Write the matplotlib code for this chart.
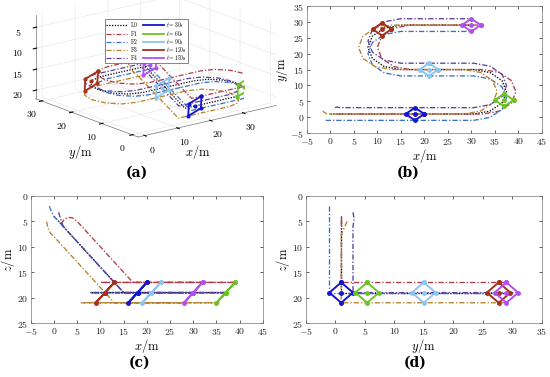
import matplotlib
matplotlib.use("Agg")
import matplotlib.pyplot as plt
from matplotlib.lines import Line2D
from matplotlib.ticker import FuncFormatter

plt.rcParams["mathtext.fontset"] = "cm"
plt.rcParams["font.family"] = "DejaVu Serif"
plt.rcParams["grid.color"] = "#e4e4e4"
plt.rcParams["grid.linewidth"] = 0.4

# leader level flight (z = 19 m) in the x-y plane
lead_x = [15, 30.5, 34.0, 36.56, 37.5, 36.56, 34.0, 30.5, 15, 11.5, 8.94, 8, 8.94, 11.5, 15, 30]
lead_y = [1, 1, 1.94, 4.5, 8, 11.5, 14.06, 15, 15, 15.94, 18.5, 22, 25.5, 28.06, 29, 29]
lead_z = 19

# take-off / climb segments of every UAV (c) and (d)
climb_x = {"L0": [0, 15],
           "F1": [1.5, 2.2, 3.0, 4.0, 5.0, 17],
           "F2": [-1, -0.6, 0, 15],
           "F3": [-1.6, -1.3, -0.8, 0, 13],
           "F4": [1.0, 1.4, 2.0, 15]}
climb_y = {"L0": [1, 1],
           "F1": [1, 1, 1, 1, 1, 1],
           "F2": [-1, -1, -1, -1],
           "F3": [2.0, 1.5, 1.1, 1, 1],
           "F4": [3, 3.2, 3, 3]}
climb_z = {"L0": [4, 19],
           "F1": [5.5, 4.6, 4.2, 4.3, 5.0, 17],
           "F2": [2, 3, 4, 19],
           "F3": [5, 6.3, 7.3, 8, 21],
           "F4": [3.2, 4.5, 6, 19]}

# formation offsets relative to the leader (x, y, z)
offsets = {"L0": (0, 0, 0), "F1": (2, 0, -2), "F2": (0, -2, 0),
           "F3": (-2, 0, 2), "F4": (0, 2, 0)}

# formation snapshots
snap_t = [30, 60, 90, 120, 150]
snap_x = [18, 37, 21, 11, 30]
snap_y = [1, 5.4, 15, 27.7, 29]
snap_z = [19, 19, 19, 19, 19]

uav_names = ["L0", "F1", "F2", "F3", "F4"]
uav_colors = {"L0": "black", "F1": "#b23a48", "F2": "#3a6fc8",
              "F3": "#b5822e", "F4": "#5b3f9e"}
uav_styles = {"L0": (0, (1, 1.2)), "F1": (0, (4, 1.5, 1, 1.5)),
              "F2": (0, (4, 1.5, 1, 1.5)), "F3": (0, (4, 1.5, 1, 1.5)),
              "F4": (0, (4, 1.5, 1, 1.5))}
snap_colors = ["#1515d0", "#6cc424", "#8ec6f2", "#a3321c", "#b24ff0"]


def path_of(name):
    dx, dy, dz = offsets[name]
    xs = climb_x[name] + [v + dx for v in lead_x[1:]]
    ys = climb_y[name] + [v + dy for v in lead_y[1:]]
    zs = climb_z[name] + [lead_z + dz] * (len(lead_x) - 1)
    return xs, ys, zs


def formation(i):
    order = ["F1", "F2", "F3", "F4", "F1"]
    px = [snap_x[i] + offsets[n][0] for n in order]
    py = [snap_y[i] + offsets[n][1] for n in order]
    pz = [snap_z[i] + offsets[n][2] for n in order]
    return px, py, pz


math_fmt = FuncFormatter(lambda v, p: f"${v:g}$")

fig = plt.figure(figsize=(5.5, 3.77), dpi=100)


def draw_2d(ax, a, b):
    for n in uav_names:
        p = path_of(n)
        ax.plot(p[a], p[b], color=uav_colors[n], linestyle=uav_styles[n], lw=0.95)
    for i in range(len(snap_t)):
        f = formation(i)
        c = (snap_x[i], snap_y[i], snap_z[i])
        ax.plot(f[a], f[b], color=snap_colors[i], lw=1.4, marker="o", ms=2.5)
        ax.plot([c[a]], [c[b]], color=snap_colors[i], marker="o", ms=2.5)
    ax.tick_params(direction="in", top=True, right=True, length=2.5,
                   width=0.5, labelsize=7, pad=2, colors="#222222")
    ax.xaxis.set_major_formatter(math_fmt)
    ax.yaxis.set_major_formatter(math_fmt)
    for s in ax.spines.values():
        s.set_linewidth(0.5)
        s.set_color("#777777")


# (b) x-y
axb = fig.add_axes([0.558, 0.647, 0.427, 0.337])
draw_2d(axb, 0, 1)
axb.set_xlim(-5, 45)
axb.set_ylim(-5, 35)
axb.set_xticks(range(-5, 46, 5))
axb.set_yticks(range(-5, 36, 5))
axb.set_xlabel(r"$x/\mathrm{m}$", fontsize=9, labelpad=0)
axb.set_ylabel(r"$y/\mathrm{m}$", fontsize=9, labelpad=0)

# (c) x-z
axc = fig.add_axes([0.056, 0.143, 0.422, 0.337])
draw_2d(axc, 0, 2)
axc.set_xlim(-5, 45)
axc.set_ylim(25, 0)
axc.set_xticks(range(-5, 46, 5))
axc.set_yticks(range(0, 26, 5))
axc.set_xlabel(r"$x/\mathrm{m}$", fontsize=9, labelpad=0)
axc.set_ylabel(r"$z/\mathrm{m}$", fontsize=9, labelpad=0)

# (d) y-z
axd = fig.add_axes([0.556, 0.143, 0.429, 0.337])
draw_2d(axd, 1, 2)
axd.set_xlim(-5, 35)
axd.set_ylim(25, 0)
axd.set_xticks(range(-5, 36, 5))
axd.set_yticks(range(0, 26, 5))
axd.set_xlabel(r"$y/\mathrm{m}$", fontsize=9, labelpad=0)
axd.set_ylabel(r"$z/\mathrm{m}$", fontsize=9, labelpad=0)

# (a) 3-D view
axa = fig.add_axes([0.009, 0.594, 0.54, 0.48], projection="3d")
axa.set_proj_type("ortho")
for n in uav_names:
    p = path_of(n)
    axa.plot(p[0], p[1], p[2], color=uav_colors[n], linestyle=uav_styles[n], lw=0.9)
for i in range(len(snap_t)):
    f = formation(i)
    axa.plot(f[0], f[1], f[2], color=snap_colors[i], lw=1.3, marker="o", ms=2)
    axa.plot([snap_x[i]], [snap_y[i]], [snap_z[i]], color=snap_colors[i], marker="o", ms=2)
axa.view_init(elev=17, azim=-128)
axa.set_xlim(-2, 40)
axa.set_ylim(-2, 32)
axa.set_zlim(22, 2)
axa.set_box_aspect((4, 3.8, 2.0), zoom=1.38)
axa.set_xticks([0, 10, 20, 30])
axa.set_yticks([0, 10, 20, 30])
axa.set_zticks([5, 10, 15, 20])
for axis in (axa.xaxis, axa.yaxis, axa.zaxis):
    axis.set_major_formatter(math_fmt)
    axis.set_pane_color((1, 1, 1, 1))
    axis.line.set_color("#777777")
    axis.line.set_linewidth(0.5)
axa.tick_params(labelsize=7, pad=-3)
axa.set_zlabel(r"$z/\mathrm{m}$", fontsize=9, labelpad=-8)
fig.text(198 / 550, 1 - 152 / 377, r"$x/\mathrm{m}$", fontsize=9,
         ha="center", va="center")
fig.text(80 / 550, 1 - 152 / 377, r"$y/\mathrm{m}$", fontsize=9,
         ha="center", va="center")

handles = []
labels = []
for n in uav_names:
    handles.append(Line2D([], [], color=uav_colors[n], linestyle=uav_styles[n], lw=0.9))
    labels.append(r"$\mathrm{" + n + "}$")
for i, t in enumerate(snap_t):
    handles.append(Line2D([], [], color=snap_colors[i], lw=1.3))
    labels.append(r"$t=" + str(t) + r"\mathrm{s}$")
leg = fig.legend(handles, labels, ncol=2, fontsize=4.0, loc="upper left",
                 bbox_to_anchor=(0.185, 0.957), frameon=True, fancybox=False,
                 edgecolor="#555555", framealpha=1, handlelength=3.8,
                 columnspacing=0.8, labelspacing=-0.15, borderpad=0.25,
                 handletextpad=0.5)
leg.get_frame().set_linewidth(0.5)

for lbl, x, y in [("(a)", 0.249, 0.541), ("(b)", 0.742, 0.541),
                  ("(c)", 0.253, 0.037), ("(d)", 0.755, 0.037)]:
    fig.text(x, y, lbl, ha="center", va="center", fontsize=10,
             fontweight="bold", family="DejaVu Serif")

fig.savefig("out.png", dpi=100)
